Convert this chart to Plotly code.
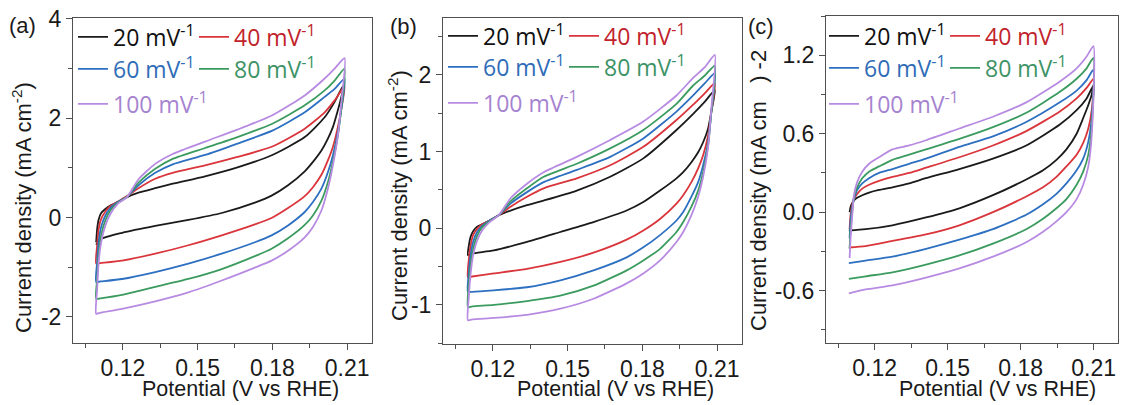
import plotly.graph_objects as go

W, H = 1123, 405

SPEEDS = ["20", "40", "60", "80", "100"]
LINE_COLORS = ["#1a1a1a", "#d9353b", "#2d6fc0", "#3b9b5f", "#b88be2"]
TEXT_COLORS = ["#111111", "#c1232b", "#2f6cb8", "#3d9366", "#a683d0"]

# ---------------- panel (a) ----------------
A_XU = [0.1093, 0.1097, 0.1103, 0.1113, 0.1130, 0.1150, 0.1180, 0.1217, 0.1263, 0.1330, 0.1400, 0.1530, 0.1660, 0.1800, 0.1930, 0.2010, 0.2050, 0.2090]
A_UP_20 = [-0.50, -0.23, -0.04, 0.09, 0.17, 0.24, 0.31, 0.41, 0.50, 0.59, 0.68, 0.83, 1.01, 1.26, 1.62, 2.02, 2.33, 2.71]
A_UP_40 = [-0.93, -0.56, -0.23, -0.03, 0.12, 0.23, 0.32, 0.43, 0.59, 0.78, 0.90, 1.05, 1.22, 1.43, 1.79, 2.12, 2.36, 2.64]
A_UP_60 = [-1.30, -0.90, -0.50, -0.19, 0.04, 0.19, 0.31, 0.42, 0.65, 0.90, 1.07, 1.26, 1.49, 1.75, 2.12, 2.43, 2.59, 2.80]
A_UP_80 = [-1.64, -1.24, -0.77, -0.36, -0.06, 0.14, 0.30, 0.42, 0.70, 0.98, 1.18, 1.40, 1.62, 1.89, 2.26, 2.56, 2.76, 3.00]
A_UP_100 = [-1.94, -1.44, -0.90, -0.50, -0.16, 0.07, 0.28, 0.41, 0.77, 1.08, 1.28, 1.53, 1.77, 2.06, 2.46, 2.80, 3.00, 3.21]
A_XL = [0.2090, 0.2077, 0.2063, 0.2043, 0.2023, 0.1997, 0.1963, 0.1930, 0.1863, 0.1797, 0.1730, 0.1597, 0.1463, 0.1330, 0.1197, 0.1110, 0.1093]
A_LO_20 = [2.71, 2.43, 2.16, 1.82, 1.59, 1.35, 1.12, 0.93, 0.65, 0.44, 0.30, 0.09, -0.05, -0.17, -0.31, -0.44, -0.55]
A_LO_40 = [2.64, 2.19, 1.82, 1.42, 1.15, 0.86, 0.61, 0.43, 0.19, -0.01, -0.14, -0.36, -0.56, -0.73, -0.87, -0.92, -0.93]
A_LO_60 = [2.80, 2.19, 1.72, 1.25, 0.91, 0.58, 0.31, 0.11, -0.16, -0.36, -0.50, -0.73, -0.93, -1.10, -1.24, -1.29, -1.30]
A_LO_80 = [3.00, 2.22, 1.65, 1.12, 0.71, 0.34, 0.04, -0.15, -0.42, -0.63, -0.78, -1.04, -1.24, -1.40, -1.56, -1.63, -1.64]
A_LO_100 = [3.21, 2.33, 1.65, 1.05, 0.58, 0.14, -0.19, -0.40, -0.67, -0.87, -1.01, -1.27, -1.51, -1.69, -1.84, -1.92, -1.94]

# ---------------- panel (b) ----------------
B_XU = [0.1100, 0.1104, 0.1111, 0.1121, 0.1137, 0.1157, 0.1187, 0.1224, 0.1271, 0.1337, 0.1404, 0.1537, 0.1671, 0.1804, 0.1937, 0.2004, 0.2051, 0.2091]
B_UP_20 = [-0.35, -0.22, -0.11, -0.04, 0.02, 0.05, 0.10, 0.17, 0.23, 0.30, 0.36, 0.49, 0.67, 0.91, 1.28, 1.49, 1.65, 1.80]
B_UP_40 = [-0.64, -0.40, -0.22, -0.09, -0.01, 0.05, 0.10, 0.17, 0.28, 0.41, 0.52, 0.65, 0.82, 1.06, 1.41, 1.61, 1.76, 1.89]
B_UP_60 = [-0.83, -0.57, -0.35, -0.18, -0.05, 0.03, 0.10, 0.17, 0.32, 0.47, 0.60, 0.76, 0.93, 1.17, 1.52, 1.73, 1.89, 2.02]
B_UP_80 = [-1.03, -0.72, -0.48, -0.27, -0.10, 0.01, 0.09, 0.17, 0.35, 0.52, 0.67, 0.84, 1.04, 1.28, 1.62, 1.86, 1.99, 2.12]
B_UP_100 = [-1.20, -0.88, -0.59, -0.35, -0.16, -0.03, 0.08, 0.17, 0.39, 0.58, 0.73, 0.93, 1.15, 1.39, 1.73, 1.96, 2.10, 2.26]
B_XL = [0.2091, 0.2077, 0.2064, 0.2044, 0.2024, 0.1997, 0.1964, 0.1937, 0.1871, 0.1804, 0.1737, 0.1604, 0.1471, 0.1337, 0.1204, 0.1117, 0.1100]
B_LO_20 = [1.80, 1.52, 1.30, 1.12, 0.99, 0.86, 0.73, 0.65, 0.49, 0.34, 0.23, 0.08, -0.05, -0.18, -0.29, -0.33, -0.35]
B_LO_40 = [1.89, 1.52, 1.21, 0.95, 0.78, 0.60, 0.43, 0.32, 0.12, -0.03, -0.15, -0.32, -0.44, -0.53, -0.59, -0.63, -0.64]
B_LO_60 = [2.02, 1.52, 1.12, 0.82, 0.60, 0.41, 0.21, 0.10, -0.09, -0.25, -0.38, -0.55, -0.68, -0.77, -0.81, -0.83, -0.83]
B_LO_80 = [2.12, 1.52, 1.08, 0.73, 0.49, 0.28, 0.08, -0.05, -0.27, -0.42, -0.55, -0.75, -0.88, -0.95, -1.00, -1.02, -1.03]
B_LO_100 = [2.26, 1.56, 1.06, 0.67, 0.41, 0.17, -0.05, -0.18, -0.42, -0.59, -0.72, -0.92, -1.05, -1.13, -1.17, -1.19, -1.20]

# ---------------- panel (c) ----------------
C_XU = [0.1097, 0.1101, 0.1108, 0.1115, 0.1128, 0.1149, 0.1177, 0.1218, 0.1273, 0.1342, 0.1411, 0.1548, 0.1686, 0.1823, 0.1961, 0.2030, 0.2071, 0.2099]
C_UP_20 = [0.00, 0.04, 0.07, 0.09, 0.11, 0.13, 0.15, 0.17, 0.19, 0.22, 0.26, 0.33, 0.41, 0.51, 0.67, 0.78, 0.87, 0.97]
C_UP_40 = [-0.13, -0.02, 0.06, 0.10, 0.14, 0.18, 0.21, 0.24, 0.27, 0.30, 0.34, 0.42, 0.51, 0.62, 0.77, 0.87, 0.95, 1.02]
C_UP_60 = [-0.20, -0.06, 0.04, 0.10, 0.17, 0.22, 0.26, 0.30, 0.33, 0.37, 0.41, 0.50, 0.58, 0.69, 0.84, 0.93, 1.01, 1.09]
C_UP_80 = [-0.28, -0.13, 0.00, 0.12, 0.19, 0.26, 0.31, 0.35, 0.40, 0.44, 0.48, 0.56, 0.65, 0.76, 0.92, 1.02, 1.10, 1.18]
C_UP_100 = [-0.35, -0.20, -0.02, 0.13, 0.23, 0.31, 0.37, 0.42, 0.48, 0.51, 0.55, 0.64, 0.73, 0.84, 1.00, 1.10, 1.19, 1.27]
C_XL = [0.2099, 0.2092, 0.2078, 0.2057, 0.2030, 0.1988, 0.1947, 0.1892, 0.1823, 0.1686, 0.1548, 0.1411, 0.1273, 0.1163, 0.1094]
C_LO_20 = [0.97, 0.90, 0.82, 0.72, 0.60, 0.48, 0.40, 0.32, 0.25, 0.13, 0.03, -0.04, -0.10, -0.13, -0.14]
C_LO_40 = [1.02, 0.78, 0.64, 0.53, 0.44, 0.35, 0.27, 0.19, 0.12, -0.00, -0.10, -0.17, -0.22, -0.26, -0.27]
C_LO_60 = [1.09, 0.72, 0.54, 0.41, 0.32, 0.22, 0.14, 0.06, -0.02, -0.13, -0.21, -0.28, -0.34, -0.37, -0.39]
C_LO_80 = [1.18, 0.65, 0.44, 0.31, 0.21, 0.10, 0.03, -0.05, -0.13, -0.24, -0.33, -0.40, -0.46, -0.49, -0.51]
C_LO_100 = [1.27, 0.59, 0.35, 0.21, 0.10, 0.00, -0.07, -0.15, -0.23, -0.34, -0.43, -0.50, -0.56, -0.59, -0.62]

X_TICKS = [0.12, 0.15, 0.18, 0.21]
X_TICKTEXT = ["0.12", "0.15", "0.18", "0.21"]
A_YTICKS = [-2, 0, 2, 4]
A_YTICKTEXT = ["-2", "0", "2", "4"]
B_YTICKS = [-1, 0, 1, 2]
B_YTICKTEXT = ["-1", "0", "1", "2"]
C_YTICKS = [-0.6, 0.0, 0.6, 1.2]
C_YTICKTEXT = ["-0.6", "0.0", "0.6", "1.2"]

AX_FONT = "Liberation Sans, Arial, sans-serif"
LEG_FONT = "Open Sans, Noto Sans, sans-serif"
FRAME = "#505050"
TXT = "#1a1a1a"

panels = [
    dict(xu=A_XU, xl=A_XL, up=[A_UP_20, A_UP_40, A_UP_60, A_UP_80, A_UP_100],
         lo=[A_LO_20, A_LO_40, A_LO_60, A_LO_80, A_LO_100], ax="", left=73,
         legends=["legend", "legend2", "legend3"], rows=[37, 69, 104]),
    dict(xu=B_XU, xl=B_XL, up=[B_UP_20, B_UP_40, B_UP_60, B_UP_80, B_UP_100],
         lo=[B_LO_20, B_LO_40, B_LO_60, B_LO_80, B_LO_100], ax="2", left=443,
         legends=["legend4", "legend5", "legend6"], rows=[36, 67, 103]),
    dict(xu=C_XU, xl=C_XL, up=[C_UP_20, C_UP_40, C_UP_60, C_UP_80, C_UP_100],
         lo=[C_LO_20, C_LO_40, C_LO_60, C_LO_80, C_LO_100], ax="3", left=824,
         legends=["legend7", "legend8", "legend9"], rows=[36, 68, 104]),
]
ROW_OF = [0, 0, 1, 1, 2]

fig = go.Figure()
layout_legends = {}
for p in panels:
    for i, s in enumerate(SPEEDS):
        xs = list(p["xu"]) + list(p["xl"][1:])
        ys = list(p["up"][i]) + list(p["lo"][i][1:])
        name = f'<span style="color:{TEXT_COLORS[i]}">{s} mV<sup>-1</sup></span>'
        fig.add_trace(go.Scatter(
            x=xs, y=ys, mode="lines", name=name,
            line=dict(color=LINE_COLORS[i], width=1.8, shape="spline", smoothing=0.6),
            xaxis="x" + p["ax"], yaxis="y" + p["ax"],
            legend=p["legends"][ROW_OF[i]], hoverinfo="skip",
        ))
    for r, lg in enumerate(p["legends"]):
        layout_legends[lg] = dict(
            x=p["left"] / W, y=1 - p["rows"][r] / H,
            xanchor="left", yanchor="middle", orientation="h",
            bgcolor="rgba(0,0,0,0)", borderwidth=0,
            font=dict(family=LEG_FONT, size=23, color="#111"),
            entrywidth=76 if r < 2 else 130, entrywidthmode="pixels", itemwidth=30,
            tracegroupgap=0,
        )

def xax(dom, anchor):
    return dict(domain=dom, range=[0.10, 0.22], tickvals=X_TICKS, ticktext=X_TICKTEXT, anchor=anchor,
                showline=True, linecolor=FRAME, linewidth=1, mirror=True,
                ticks="outside", ticklen=6, tickwidth=1, tickcolor=FRAME, ticklabelstandoff=-2,
                minor=dict(dtick=0.015, tick0=0.105, ticks="outside", ticklen=4, tickcolor=FRAME, tickwidth=1),
                showgrid=False, zeroline=False, automargin=False,
                tickfont=dict(family=AX_FONT, size=23, color=TXT))

def yax(dom, rng, tv, tt, mdtick, anchor):
    return dict(domain=dom, range=rng, tickvals=tv, ticktext=tt, anchor=anchor,
                showline=True, linecolor=FRAME, linewidth=1, mirror=True,
                ticks="outside", ticklen=6, tickwidth=1, tickcolor=FRAME,
                minor=dict(dtick=mdtick, tick0=0, ticks="outside", ticklen=4, tickcolor=FRAME, tickwidth=1),
                showgrid=False, zeroline=False, automargin=False,
                tickfont=dict(family=AX_FONT, size=23, color=TXT))

def ann(text, px, py, angle=0, size=21.5):
    return dict(text=text, x=px / W, y=1 - py / H, xref="paper", yref="paper",
                xanchor="center", yanchor="middle", showarrow=False, textangle=angle,
                font=dict(family=AX_FONT, size=size, color=TXT))

annotations = [
    ann("Potential (V vs RHE)", 240, 389),
    ann("Potential (V vs RHE)", 615, 389),
    ann("Potential (V vs RHE)", 997, 389),
    ann("Current density (mA cm<sup>-2</sup>)", 22, 208, -90, 22),
    ann("Current density (mA cm<sup>-2</sup>)", 398, 196, -90, 22),
    ann("Current density (mA cm&nbsp;&nbsp;&nbsp;) -2", 758, 191, -90, 22),
    ann("(a)", 22, 25, 0, 22),
    ann("(b)", 403, 27, 0, 22),
    ann("(c)", 761, 27, 0, 22),
]

fig.update_layout(
    width=W, height=H,
    margin=dict(l=0, r=0, t=0, b=0),
    paper_bgcolor="white", plot_bgcolor="white",
    showlegend=True,
    xaxis=xax([73 / W, 372 / W], "y"),
    xaxis2=xax([443 / W, 742 / W], "y2"),
    xaxis3=xax([826 / W, 1118 / W], "y3"),
    yaxis=yax([1 - 343 / H, 1 - 18 / H], [-2.53, 4.02], A_YTICKS, A_YTICKTEXT, 1, "x"),
    yaxis2=yax([1 - 344 / H, 1 - 18 / H], [-1.51, 2.74], B_YTICKS, B_YTICKTEXT, 0.5, "x2"),
    yaxis3=yax([1 - 343 / H, 1 - 16 / H], [-1.0, 1.5], C_YTICKS, C_YTICKTEXT, 0.3, "x3"),
    annotations=annotations,
    **layout_legends,
)

fig.write_html("out.html", config={"displayModeBar": False},
               post_script="document.body.style.margin='0px';document.body.style.overflow='hidden';")
